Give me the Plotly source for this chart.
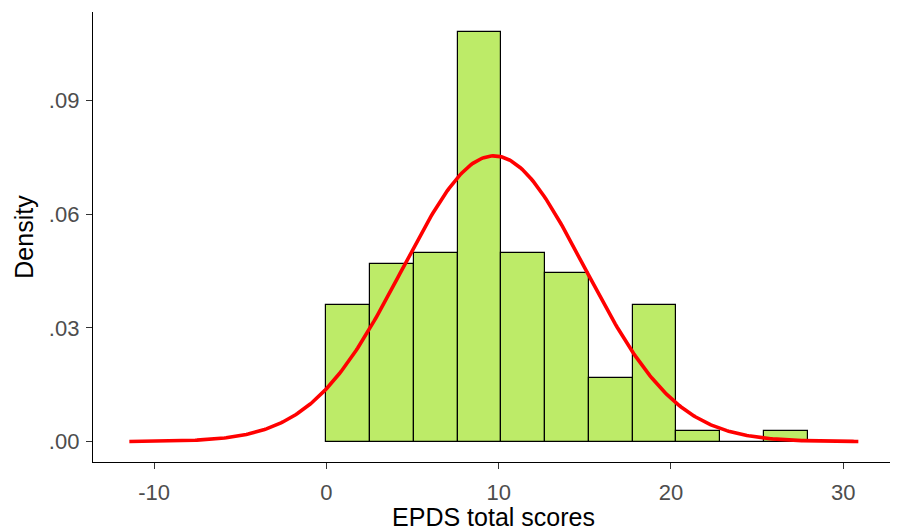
import numpy as np
import plotly.graph_objects as go

# Histogram data (density per bin)
bin_start = 0.0
bin_width = 2.54
densities = [0.0360, 0.0470, 0.0498, 0.1080, 0.0498, 0.0444, 0.0168, 0.0360, 0.0028, 0.0, 0.0028]

# Fitted normal curve parameters
norm_mean = 9.72
norm_sd = 5.29

x_ticks = [-10, 0, 10, 20, 30]
x_tick_labels = ["-10", "0", "10", "20", "30"]
y_ticks = [0.0, 0.03, 0.06, 0.09]
y_tick_labels = [".00", ".03", ".06", ".09"]

bar_x = [bin_start + bin_width * (i + 0.5) for i in range(len(densities))]

xs = np.linspace(norm_mean - 4 * norm_sd, norm_mean + 4 * norm_sd, 400)
ys = np.exp(-0.5 * ((xs - norm_mean) / norm_sd) ** 2) / (norm_sd * np.sqrt(2 * np.pi))

fig = go.Figure()
fig.add_trace(go.Bar(
    x=bar_x, y=densities, width=bin_width,
    marker=dict(color="#BDEB68", line=dict(color="black", width=1.2)),
    showlegend=False, hoverinfo="skip",
))
fig.add_trace(go.Scatter(
    x=xs, y=ys, mode="lines",
    line=dict(color="#FF0000", width=3.6),
    showlegend=False,
))

font_family = "Liberation Sans, Arial, sans-serif"
# page body has an 8px default margin, so the figure is sized/offset to compensate
fig.update_layout(
    width=890, height=523,
    margin=dict(l=85, r=4, t=4, b=69),
    plot_bgcolor="white", paper_bgcolor="white",
    bargap=0,
    font=dict(family=font_family),
)
fig.update_xaxes(
    range=[-13.55, 32.95], showgrid=False, zeroline=False,
    showline=True, linecolor="black", linewidth=1.3,
    ticks="outside", ticklen=6, tickcolor="#333333", tickwidth=1.2,
    tickvals=x_ticks, ticktext=x_tick_labels, tickfont=dict(size=22, color="#4D4D4D"),
    ticklabelstandoff=4,
    title=dict(text="EPDS total scores", font=dict(size=25, color="black"), standoff=10),
    automargin=False,
)
fig.update_yaxes(
    range=[-0.0054, 0.1134], showgrid=False, zeroline=False,
    showline=True, linecolor="black", linewidth=1.3,
    ticks="outside", ticklen=6, tickcolor="#333333", tickwidth=1.2,
    tickvals=y_ticks, ticktext=y_tick_labels, tickfont=dict(size=22, color="#4D4D4D"),
    ticklabelstandoff=2,
    title=dict(text="Density", font=dict(size=25, color="black"), standoff=8),
    automargin=False,
)

fig.write_html("out.html")
